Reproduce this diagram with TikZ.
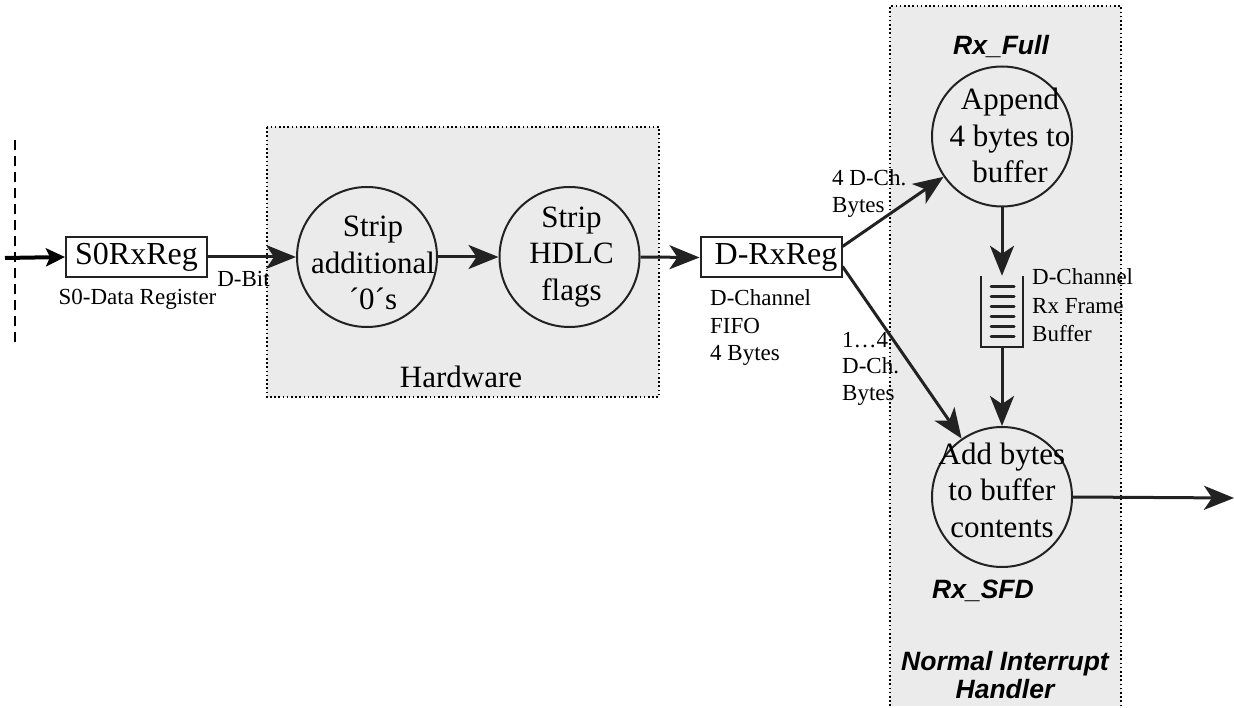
\documentclass[tikz,border=0pt]{standalone}
\usepackage{fontspec}
\setmainfont{Liberation Serif}
\newfontfamily\labelsans{Liberation Sans}
\usetikzlibrary{arrows.meta}
\definecolor{ink}{HTML}{222222}
\definecolor{panel}{HTML}{EBEBEB}
\tikzset{
  flow/.style={draw=ink, line width=3pt, -{Stealth[length=30pt,width=24pt,inset=8pt]}},
  inflow/.style={draw=black, line width=4pt, -{Stealth[length=19pt,width=18pt,inset=4pt]}},
  proc/.style={circle, draw=ink, line width=2pt, minimum size=140pt, inner sep=0pt},
  proctext/.style={align=center, font=\fontsize{31}{36.5}\selectfont, inner sep=0pt},
  reg/.style={draw=ink, line width=2pt, fill=white, minimum width=141pt, minimum height=40pt,
              inner sep=0pt, font=\fontsize{32}{36}\selectfont},
  note/.style={align=left, inner sep=0pt, font=\fontsize{23}{27.5}\selectfont},
  groupedge/.style={draw=black, line width=1.6pt, dash pattern=on 1.6pt off 2.6pt},
  tag/.style={align=center, inner sep=0pt, font=\labelsans\bfseries\itshape\fontsize{26.5}{28}\selectfont},
  bar/.style={draw=ink, line width=3pt, line cap=round},
}
\begin{document}
\begin{tikzpicture}[x=1pt,y=-1pt]
\useasboundingbox (0,0) rectangle (1234,708);
\clip (0,0) rectangle (1234,708);

% group panels
\fill[panel] (267,127) rectangle (659,397);
\draw[groupedge] (267,127) rectangle (659,397);
\fill[panel] (890,6) rectangle (1121,706);
\draw[groupedge] (890,706) -- (890,6) -- (1121,6) -- (1121,706);

% interface boundary
\draw[black, line width=2pt, dash pattern=on 10pt off 6pt] (15,140) -- (15,348);

% registers
\node[reg] (s0) at (136.5,257) {S0RxReg};
\node[reg] (dr) at (771,257.5) {\hspace{10pt}D-RxReg\hspace{-10pt}};

% processes
\node[proc] (s1) at (367,257) {};
\node[proc] (s2) at (569.5,257) {};
\node[proc] (ap) at (1002,136.5) {};
\node[proc] (ad) at (1002,497) {};
\node[proctext, xshift=6pt, yshift=-6pt] (t1) at (s1) {Strip\\additional\\´0´s};
\node[proctext, xshift=2pt, yshift=0pt] (t2) at (s2) {Strip\\HDLC\\flags};
\node[proctext, xshift=8pt, yshift=1pt] (t3) at (ap) {Append\\4 bytes to\\buffer};
\node[proctext, yshift=7pt] (t4) at (ad) {Add bytes\\to buffer\\contents};

% frame buffer
\node[minimum width=41pt, minimum height=71pt, inner sep=0pt] (buf) at (1002,311.5) {};
\draw[ink, line width=2pt] (buf.north west) -- (buf.south west) -- (buf.south east) -- (buf.north east);
\foreach \yy in {287,297,307,317,327,337}
  \draw[bar] (991,\yy) -- (1014,\yy);

% labels (multi-line nodes are anchored on their last baseline)
\node[note, anchor=base] (l1) at (137.5,305) {S0-Data Register};
\node[note, anchor=base] (l2) at (243.5,287) {D-Bit};
\node[proctext, anchor=base] (l3) at (461,388) {Hardware};
\node[note, anchor=base west] (l4) at (710,361) {D-Channel\\FIFO\\4 Bytes};
\node[note, anchor=base west] (l5) at (832,213) {4 D-Ch.\\Bytes};
\node[note, anchor=base west, font=\fontsize{23}{26.5}\selectfont] (l6) at (842,400) {1…4\\D-Ch.\\Bytes};
\node[note, anchor=base west, font=\fontsize{23}{28.5}\selectfont] (l7) at (1032,342) {D-Channel\\Rx Frame\\Buffer};
\node[tag, anchor=base] (g1) at (1001,55) {Rx\_Full};
\node[tag, anchor=base] (g2) at (983,598) {Rx\_SFD};
\node[tag, anchor=base] (g3) at (1005,698) {Normal Interrupt\\Handler};

% connectors
\coordinate (in) at (5,258);
\coordinate (out) at (1234,498);
\draw[inflow] (in) -- (s0.west);
\draw[flow] (s0.east) -- (s1.west);
\draw[flow] (s1) -- (s2);
\draw[flow] (s2.east) -- (dr.west);
\draw[flow] ([yshift=11pt]dr.east) -- (ap);
\draw[flow] ([yshift=-9pt]dr.east) -- (ad);
\draw[flow] (ap) -- (buf.north);
\draw[flow] (buf.south) -- (ad);
\draw[flow] (ad.east) -- (out);
\end{tikzpicture}
\end{document}
